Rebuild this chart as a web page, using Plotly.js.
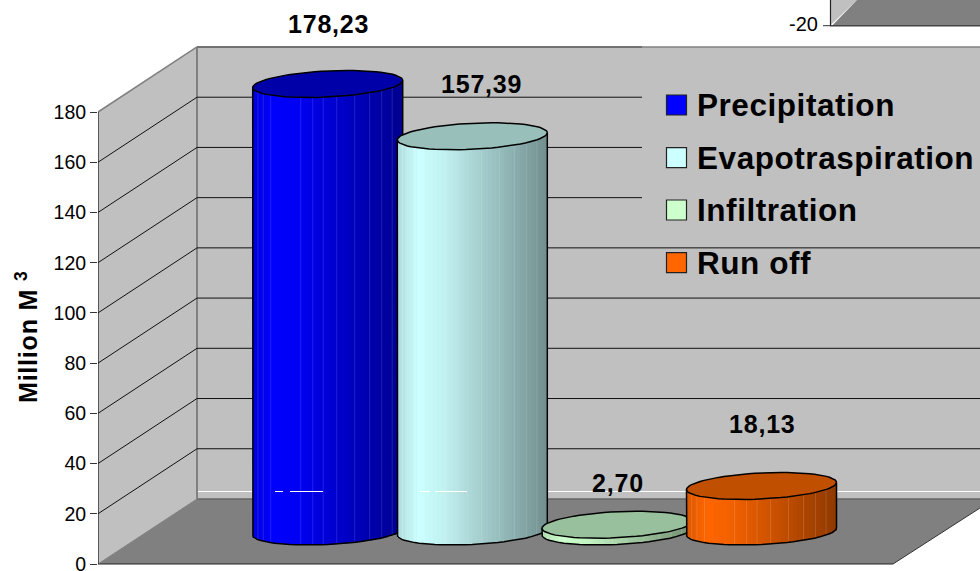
<!DOCTYPE html>
<html><head><meta charset="utf-8">
<script src="https://cdn.plot.ly/plotly-3.0.1.min.js"></script>
<style>html,body{margin:0;padding:0;background:#fff;overflow:hidden}
text.annotation-text[style*="font-size: 25px"]{letter-spacing:.8px}
text.annotation-text[style*="font-size: 31.5px"]{letter-spacing:.55px}
</style>
</head><body><div id="chart" style="width:980px;height:571px"></div>
<script>
const categories = ["Precipitation","Evapotraspiration","Infiltration","Run off"];
const values = [178.23,157.39,2.70,18.13];
const tickValues = [0,20,40,60,80,100,120,140,160,180];
const bodyColors = [[0,0,255],[204,255,255],[204,255,204],[255,102,0]];
const capColors = ["#0000a8","#99bfbb","#99c09c","#c05000"];
const legendColors = ["#0000ff","#ccffff","#ccffcc","#ff6600"];
const centers = [327.7,472.3,617,761.5];
const labelX = [328,481.5,618,762];
const labelPy = [24,84,483,424];
const legendPy = [105,157.7,210,262.7];
const seams = [-0.93,-0.86,-0.76,-0.36,-0.2,-0.06,0.12,0.36,0.56,0.72,0.86];

const k = 2.511, floorPx = 564;
const v = p => (floorPx - p) / k;          // pixel row -> axis value (furniture only)
const rx = 75, ry = 13, shear = 3.6, baseV = v(531.5);
const depthX = 99, depthV = 25.9, backX = 98 + depthX, rightX = 980;
const FONT = '"Liberation Sans", Arial, sans-serif';

function shade(u){ // u in -1..1 across the cylinder
  const s = (u+1)/2, st=[[0,.86],[.14,1],[.3,.95],[1,.56]];
  for(let i=1;i<st.length;i++) if(s<=st[i][0]){
    const t=(s-st[i-1][0])/(st[i][0]-st[i-1][0]); return st[i-1][1]+t*(st[i][1]-st[i-1][1]);
  }
  return .56;
}
const rgb = (c,f,w=0)=>`rgb(${c.map(x=>Math.round(x*f+(255-x*f)*w)).join(",")})`;

const traces = [];
categories.forEach((name,i)=>{
  const cx=centers[i], val=values[i], z=i*2+1, N=38, sv=shear/k, rv=ry/k, d=2*rx/N;
  const sliceX=[],h=[],b=[],cols=[],w=[];
  for(let j=0;j<N;j++){
    const u=-1+(j+.5)*2/N;
    const x0=cx-rx+j*d, x1=Math.min(x0+d+1.2,cx+rx);
    const bot=baseV-(ry*Math.sqrt(1-u*u)-shear*u)/k, tp=baseV+val+sv*u;
    sliceX.push((x0+x1)/2); w.push(x1-x0); b.push(bot); h.push(tp-bot); cols.push(rgb(bodyColors[i],shade(u)));
  }
  traces.push({type:"bar",x:sliceX,y:h,base:b,width:w,name:name,showlegend:false,hoverinfo:"skip",zorder:z,
    marker:{color:cols,line:{width:0}}});
  const sx=[],sh=[],sb=[],sc=[];
  seams.forEach(u=>{
    const bot=baseV-(ry*Math.sqrt(1-u*u)-shear*u)/k, tp=baseV+val+sv*u;
    sx.push(cx+rx*u); sb.push(bot); sh.push(tp-bot); sc.push(rgb(bodyColors[i],shade(u),.13));
  });
  traces.push({type:"bar",x:sx,y:sh,base:sb,width:1,showlegend:false,hoverinfo:"skip",zorder:z,
    marker:{color:sc,line:{width:0}}});
  // side outline
  const ox=[cx-rx],oy=[baseV+val+sv*-1];
  for(let a=180;a>=0;a-=5){const t=a*Math.PI/180; ox.push(cx+rx*Math.cos(t)); oy.push(baseV-rv*Math.sin(t)+sv*Math.cos(t));}
  ox.push(cx+rx); oy.push(baseV+val+sv);
  traces.push({type:"scatter",mode:"lines",x:ox,y:oy,line:{color:"#000",width:1.5},showlegend:false,hoverinfo:"skip",zorder:z+1});
  // top cap
  const cxs=[],cys=[];
  for(let a=0;a<=360;a+=5){const t=a*Math.PI/180; cxs.push(cx+rx*Math.cos(t)); cys.push(baseV+val-rv*Math.sin(t)+sv*Math.cos(t));}
  traces.push({type:"scatter",mode:"lines",x:cxs,y:cys,fill:"toself",fillcolor:capColors[i],line:{color:"#000",width:1.5},showlegend:false,hoverinfo:"skip",zorder:z+1});
});
// legend keys
traces.push({type:"scatter",mode:"markers",x:categories.map(()=>676.5),y:legendPy.map(v),
  marker:{symbol:"square",size:20,color:legendColors,line:{color:"#222",width:1.2}},showlegend:false,hoverinfo:"skip",zorder:20});

const poly=(pts,fill,line,w)=>({type:"path",layer:"below",xref:"x",yref:"y",
  path:"M"+pts.map(p=>p[0]+","+p[1]).join("L")+"Z",fillcolor:fill,line:{color:line||fill,width:w||0}});
const seg=(x0,y0,x1,y1,c,w,layer)=>({type:"line",layer:layer||"below",xref:"x",yref:"y",x0,y0,x1,y1,line:{color:c,width:w}});
const wallTop=180+depthV, back0=depthV;
const floorRight=[rightX,v(508)], floorFront=[893,0];
const shapes=[
  poly([[98,0],[98,180],[backX,wallTop],[backX,back0]],"#c0c0c0"),
  poly([[backX,back0],[backX,wallTop],[rightX,wallTop],[rightX,back0]],"#c0c0c0"),
  poly([[98,0],[backX,back0],[rightX,back0],floorRight,floorFront],"#808080"),
  seg(backX,v(491.5),rightX,v(491.5),"#ffffff",1),
  seg(backX,back0,rightX,back0,"#666666",1.5),
  seg(98,0,floorFront[0],0,"#222222",1.2),
  seg(floorFront[0],0,floorRight[0],floorRight[1],"#333333",1),
  seg(98,0,backX,back0,"#808080",1),
  seg(98,180,backX,wallTop,"#808080",1.5),
  seg(backX,wallTop,rightX,wallTop,"#808080",1.5),
  seg(backX,back0,backX,wallTop,"#808080",2),
  seg(98,0,98,180,"#111111",1.2)
];
tickValues.forEach(t=>{
  if(t===0) return;
  if(t<180) shapes.push(seg(98,t,backX,t+depthV,"#111111",1));
  shapes.push(seg(backX,t+depthV,t>=120?642:rightX,t+depthV,t===180?"#666666":"#111111",t===180?1.5:1));
});
// white glints on the bodies
[[275,283],[290,323],[420,430],[435,467]].forEach(s=>shapes.push(seg(s[0],v(491.5),s[1],v(491.5),"#ffffff",1,"above")));
// fragment of the neighbouring chart at top right
shapes.push(poly([[830,v(25.7)],[830,v(0)],[857,v(0)]],"#c0c0c0"));
shapes.push(poly([[832,v(25.7)],[857,v(0)],[rightX,v(0)],[rightX,v(25.7)]],"#808080"));
shapes.push(seg(830,v(25.7),rightX,v(25.7),"#444444",1.5));
shapes.push(seg(830.5,v(25.7),830.5,v(0),"#222222",1.2));
shapes.push(seg(823,v(25.7),830,v(25.7),"#333333",1));

const annotations=[];
values.forEach((val,i)=>annotations.push({xref:"x",yref:"y",x:labelX[i],y:v(labelPy[i]),showarrow:false,
  text:val.toFixed(2).replace(".",","),font:{family:FONT,size:25,color:"#000",weight:"bold"}}));
categories.forEach((c,i)=>annotations.push({xref:"x",yref:"y",x:697,y:v(legendPy[i]),xanchor:"left",showarrow:false,xshift:-2,
  text:c,font:{family:FONT,size:31.5,color:"#000",weight:"bold"}}));
annotations.push({xref:"paper",yref:"y",x:-0.0805,y:v(337),xanchor:"center",yanchor:"middle",showarrow:false,textangle:-90,
  text:"<b>Million M <sup>3</sup></b>",font:{family:FONT,size:25,color:"#000"}});
annotations.push({xref:"x",yref:"y",x:820,y:v(24),xanchor:"right",showarrow:false,text:"-20",font:{family:FONT,size:20,color:"#000"}});

Plotly.newPlot("chart",traces,{
  width:980,height:571,autosize:false,showlegend:false,
  margin:{l:98,r:0,t:0,b:0,pad:0},paper_bgcolor:"#fff",plot_bgcolor:"rgba(0,0,0,0)",
  barmode:"overlay",separators:",.",
  xaxis:{range:[98,980],visible:false,fixedrange:true},
  yaxis:{range:[(floorPx-571)/k,floorPx/k],tickmode:"array",tickvals:tickValues,ticktext:tickValues.map(String),ticks:"outside",ticklen:7,
    tickwidth:1,tickcolor:"#333",showgrid:false,zeroline:false,showline:false,fixedrange:true,ticklabeloverflow:"allow",
    tickfont:{family:FONT,size:19.5,color:"#000"}},
  shapes,annotations
},{displayModeBar:false,staticPlot:true});
</script></body></html>
